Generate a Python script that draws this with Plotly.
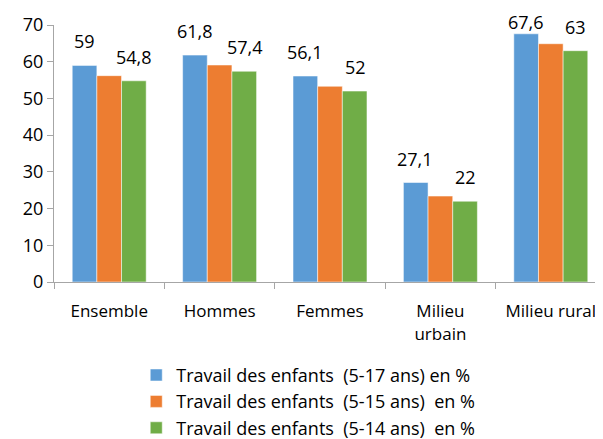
import plotly.graph_objects as go

categories = ["Ensemble", "Hommes", "Femmes", "Milieu<br>urbain", "Milieu rural"]
series_names = [
    "Travail des enfants \u00a0(5-17 ans) en %",
    "Travail des enfants \u00a0(5-15 ans) \u00a0en %",
    "Travail des enfants \u00a0(5-14 ans) \u00a0en %",
]
v_5_17 = [59, 61.8, 56.1, 27.1, 67.6]
v_5_15 = [56.2, 59.1, 53.3, 23.4, 64.9]
v_5_14 = [54.8, 57.4, 52, 22, 63]
colors = ["#5B9BD5", "#ED7D31", "#70AD47"]
y_ticks = [0, 10, 20, 30, 40, 50, 60, 70]

FONT = "Open Sans"
W, H = 603, 439
M = dict(l=46, r=5, t=17, b=165)
Y_MAX = 70
px_per_unit = (H - M["t"] - M["b"]) / Y_MAX

fig = go.Figure()
for name, vals, col in zip(series_names, [v_5_17, v_5_15, v_5_14], colors):
    fig.add_trace(go.Bar(
        x=categories, y=vals, name=name,
        marker=dict(color=col, line=dict(color="rgba(255,255,255,0.5)", width=1)),
    ))

def fmt(v):
    s = f"{v:g}"
    return s.replace(".", ",")

for vals, shift in [(v_5_17, -25), (v_5_14, 25)]:
    for c, v in zip(categories, vals):
        # keep label inside the chart area (like the original)
        ys = min(24, (Y_MAX - v) * px_per_unit + 3)
        fig.add_annotation(x=c, y=v, text=fmt(v), showarrow=False,
                           xshift=shift, yshift=ys,
                           font=dict(family=FONT, size=18, color="#000000"))

fig.update_layout(
    width=W, height=H,
    margin=M,
    paper_bgcolor="white", plot_bgcolor="white",
    barmode="group", bargap=0.33, bargroupgap=0,
    font=dict(family=FONT, size=17, color="#000000"),
    showlegend=True,
    legend=dict(orientation="v", x=0.149, xanchor="left", xref="paper",
                y=0.2055, yanchor="top", yref="container",
                font=dict(family=FONT, size=18, color="#000000"),
                itemwidth=30, tracegroupgap=0),
    xaxis=dict(showline=True, linecolor="#A6A6A6", linewidth=1,
               ticks="outside", tickson="boundaries", ticklen=6, tickcolor="#A6A6A6",
               ticklabelstandoff=14,
               tickfont=dict(family=FONT, size=17), showgrid=False),
    yaxis=dict(range=[0, Y_MAX], tickvals=y_ticks, showline=True, linecolor="#A6A6A6",
               linewidth=1, ticks="outside", ticklen=6, tickcolor="#A6A6A6",
               tickfont=dict(family=FONT, size=18), showgrid=False, zeroline=False),
)

fig.write_html("out.html")
